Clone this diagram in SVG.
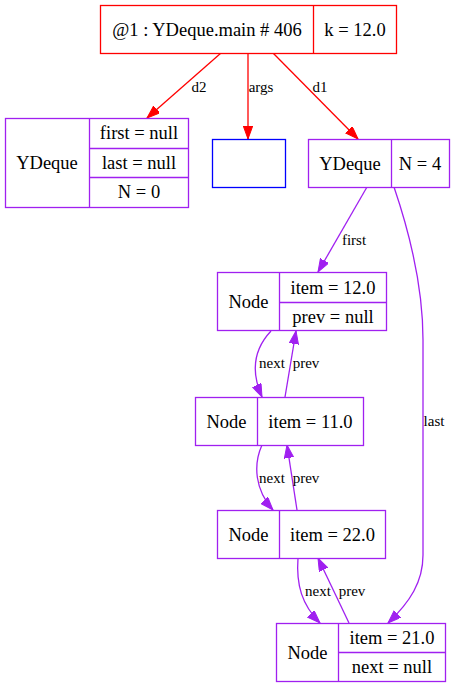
<svg xmlns="http://www.w3.org/2000/svg" width="461" height="688" viewBox="0 0 461 688">
<style>
text{font-family:"Liberation Serif","Times New Roman",serif;font-size:18.5px;fill:#000;text-anchor:middle;dominant-baseline:central}
text.el{font-size:15px}
.r{fill:#fff;stroke:#ff0000;stroke-width:1.3}
.p{fill:#fff;stroke:#a020f0;stroke-width:1.3}
.b{fill:#fff;stroke:#0000ff;stroke-width:1.3}
.lr{stroke:#ff0000;fill:none;stroke-width:1.3}
.lp{stroke:#a020f0;fill:none;stroke-width:1.3}
.er{stroke:#ff0000;fill:none;stroke-width:1.3;marker-end:url(#ar)}
.ep{stroke:#a020f0;fill:none;stroke-width:1.3;marker-end:url(#ap)}
</style>
<defs>
<marker id="ar" markerUnits="userSpaceOnUse" markerWidth="14" markerHeight="10" refX="13" refY="4.7" orient="auto" viewBox="0 0 14 10"><path d="M0,0 L13,4.7 L0,9.4 z" fill="#ff0000" stroke="#ff0000"/></marker>
<marker id="ap" markerUnits="userSpaceOnUse" markerWidth="14" markerHeight="10" refX="13" refY="4.7" orient="auto" viewBox="0 0 14 10"><path d="M0,0 L13,4.7 L0,9.4 z" fill="#a020f0" stroke="#a020f0"/></marker>
</defs>
<rect width="461" height="688" fill="#fff"/>
<g id="connectors">
<path class="er" d="M221,53 L147,118"/>
<text class="el" x="199" y="87">d2</text>
<path class="er" d="M248,53 L248,139"/>
<text class="el" x="261" y="87">args</text>
<path class="er" d="M273,53 L358,139"/>
<text class="el" x="320" y="87">d1</text>
<path class="ep" d="M367,187 L318,272"/>
<text class="el" x="354" y="240">first</text>
<path class="ep" d="M394,187 C412,240 423,290 423,340 L423,555 C423,582 410,602 388,623"/>
<text class="el" x="434" y="421">last</text>
<path class="ep" d="M271,331 C255,348 250,370 262,397"/>
<text class="el" x="272" y="363">next</text>
<path class="ep" d="M285,397 L296,331"/>
<text class="el" x="306" y="363">prev</text>
<path class="ep" d="M262,445 C253,465 255,490 273,510"/>
<text class="el" x="272" y="478">next</text>
<path class="ep" d="M297,510 L287,445"/>
<text class="el" x="306" y="478">prev</text>
<path class="ep" d="M298,558 C296,585 302,605 320,623"/>
<text class="el" x="318" y="591">next</text>
<path class="ep" d="M349,623 L318,558"/>
<text class="el" x="352" y="591">prev</text>
</g>
<g id="main">
<rect class="r" x="100.5" y="5.5" width="296" height="48"/>
<line class="lr" x1="313.5" y1="5.5" x2="313.5" y2="53.5"/>
<text x="207" y="29.5">@1 : YDeque.main # 406</text>
<text x="355" y="29.5">k = 12.0</text>
</g>
<g id="d2">
<rect class="p" x="5.5" y="118.5" width="183" height="89"/>
<line class="lp" x1="89.5" y1="118.5" x2="89.5" y2="207.5"/>
<line class="lp" x1="89.5" y1="148.5" x2="188.5" y2="148.5"/>
<line class="lp" x1="89.5" y1="177.5" x2="188.5" y2="177.5"/>
<text x="47" y="163">YDeque</text>
<text x="139" y="133">first = null</text>
<text x="139" y="163">last = null</text>
<text x="139" y="192">N = 0</text>
</g>
<g id="args">
<rect class="b" x="212.5" y="139.5" width="73" height="48"/>
</g>
<g id="d1">
<rect class="p" x="308.5" y="139.5" width="141" height="48"/>
<line class="lp" x1="391.5" y1="139.5" x2="391.5" y2="187.5"/>
<text x="350" y="163.5">YDeque</text>
<text x="420" y="163.5">N = 4</text>
</g>
<g id="node1">
<rect class="p" x="217.5" y="272.5" width="169" height="58"/>
<line class="lp" x1="279.5" y1="272.5" x2="279.5" y2="330.5"/>
<line class="lp" x1="279.5" y1="302.5" x2="386.5" y2="302.5"/>
<text x="248.5" y="301.5">Node</text>
<text x="333" y="287.5">item = 12.0</text>
<text x="333" y="317">prev = null</text>
</g>
<g id="node2">
<rect class="p" x="195.5" y="397.5" width="168" height="48"/>
<line class="lp" x1="257.5" y1="397.5" x2="257.5" y2="445.5"/>
<text x="226.5" y="421.5">Node</text>
<text x="310.5" y="421.5">item = 11.0</text>
</g>
<g id="node3">
<rect class="p" x="217.5" y="510.5" width="168" height="48"/>
<line class="lp" x1="279.5" y1="510.5" x2="279.5" y2="558.5"/>
<text x="248.5" y="534.5">Node</text>
<text x="332.5" y="534.5">item = 22.0</text>
</g>
<g id="node4">
<rect class="p" x="276.5" y="623.5" width="169" height="58"/>
<line class="lp" x1="338.5" y1="623.5" x2="338.5" y2="681.5"/>
<line class="lp" x1="338.5" y1="652.5" x2="445.5" y2="652.5"/>
<text x="307.5" y="652.5">Node</text>
<text x="392" y="638">item = 21.0</text>
<text x="392" y="667">next = null</text>
</g>
</svg>
